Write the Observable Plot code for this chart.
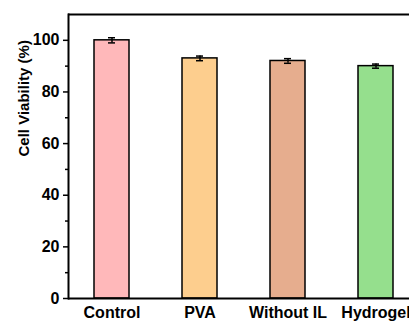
<!DOCTYPE html>
<html><head><meta charset="utf-8">
<script src="https://cdn.jsdelivr.net/npm/d3@7"></script>
<script src="https://cdn.jsdelivr.net/npm/@observablehq/plot@0.6"></script>
<style>body{margin:0;background:#fff}</style>
</head><body><div id="chart"></div>
<script>
const categories = ["Control", "PVA", "Without IL", "Hydrogel"];
const values = [100, 93, 92, 90];
const errors = [1.0, 0.9, 0.9, 0.8];
const colors = ["#FFB8BA", "#FDCE8E", "#E6AD8E", "#95DF8D"];
const majorTicks = [0, 20, 40, 60, 80, 100];
const minorTicks = [10, 30, 50, 70, 90];

const data = categories.map((c, i) => ({cat: c, v: values[i], e: errors[i], col: colors[i]}));
const font = "Liberation Sans, Arial, sans-serif";

const plot = Plot.plot({
  width: 409, height: 321,
  marginTop: 14, marginBottom: 23, marginLeft: 68, marginRight: 0,
  style: {fontFamily: font, fontWeight: "bold", fontSize: "15px", color: "#000", background: "#fff"},
  x: {domain: categories, range: [68, 420], paddingInner: 0.6, paddingOuter: 0.3, label: null},
  y: {domain: [0, 110], label: null},
  marks: [
    Plot.barY(data, {x: "cat", y: "v", fill: "col", stroke: "#000", strokeWidth: 1.5}),
    Plot.ruleX(data, {x: "cat", y1: d => d.v - d.e, y2: d => d.v + d.e, stroke: "#000", strokeWidth: 1.5}),
    Plot.tickY(data, {x: "cat", y: d => d.v - d.e, stroke: "#000", strokeWidth: 1.5, inset: 14}),
    Plot.tickY(data, {x: "cat", y: d => d.v + d.e, stroke: "#000", strokeWidth: 1.5, inset: 14}),
    Plot.axisY({ticks: majorTicks, tickSize: 5, tickPadding: 4, strokeWidth: 1.5, fontSize: 16, fontWeight: "bold", label: null}),
    Plot.axisY({ticks: minorTicks, tickSize: 3, text: null, strokeWidth: 1.5, label: null}),
    Plot.text(["Cell Viability (%)"], {frameAnchor: "left", dx: -44, rotate: -90, fontSize: 15, fontWeight: "bold"}),
    Plot.axisX({tickSize: 0, tickPadding: 8, fontSize: 16, fontWeight: "bold", label: null}),
    Plot.ruleY([0, 110], {stroke: "#000", strokeWidth: 2}),
    Plot.frame({anchor: "left", stroke: "#000", strokeWidth: 2})
  ]
});
document.getElementById("chart").appendChild(plot);
</script>
</body></html>
